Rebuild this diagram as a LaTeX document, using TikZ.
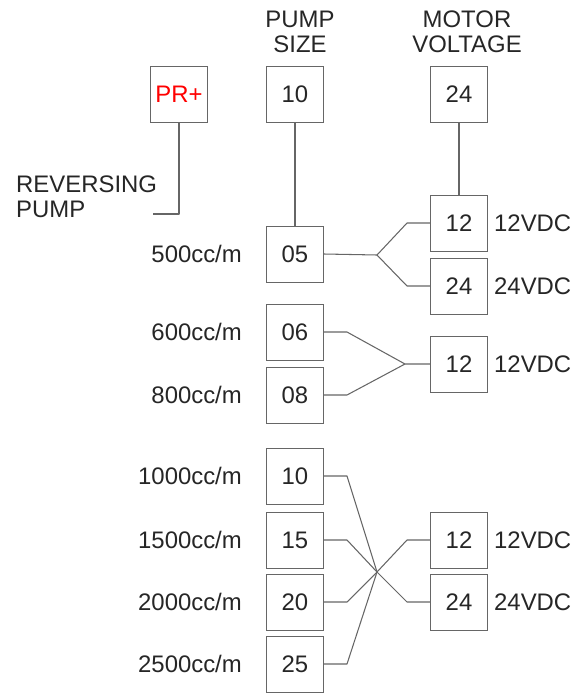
\documentclass[tikz,border=0pt]{standalone}
\usepackage{fontspec}
\setmainfont{Liberation Sans}
\usetikzlibrary{positioning}
\begin{document}
\begin{tikzpicture}[x=0.03cm, y=-0.03cm,
        txt/.style={text=black!85, inner sep=0pt, font=\fontsize{20.4}{21.3}\selectfont},
        box/.style={txt, draw=black!60, line width=0.8pt, minimum width=1.71cm, minimum height=1.68cm},
        wire/.style={draw=black!60, line width=0.9pt, line join=round}]
        \useasboundingbox (0,0) rectangle (587,693);

        % Column headings
        \node[txt, align=center] (hsize) at (300,32) {PUMP\\SIZE};
        \node[txt, align=center] (hvolt) at (467,32) {MOTOR\\VOLTAGE};

        % Top row of the code
        \node[box, text=red] (pr) at (179,94) {PR+};
        \node[box] (sizetop) at (295,94) {10};
        \node[box] (volttop) at (459,94) {24};

        % Reversing pump callout
        \node[txt, align=left, anchor=west] (rev) at (16,197) {REVERSING\\PUMP};
        \coordinate (revend) at (153,214);
        \draw[wire] (pr.south) |- (revend);

        % Elbow columns for the branch lines
        \coordinate (elbL) at (347,0);
        \coordinate (elbR) at (407,0);

        % 500cc/m: 12 or 24 VDC
        \node[box] (s05) at (295,254) {05};
        \node[txt, left=0.72cm of s05] (l05) {500cc/m};
        \node[box] (v12a) at (459,223) {12};
        \node[box] (v24a) at (459,286) {24};
        \node[txt, right=0.18cm of v12a] (d12a) {12VDC};
        \node[txt, right=0.18cm of v24a] (d24a) {24VDC};
        \coordinate (hubA) at (377,255);
        \draw[wire] (sizetop.south) -- (s05.north);
        \draw[wire] (volttop.south) -- (v12a.north);
        \draw[wire] (s05.east) -- (hubA) -- (v12a.west -| elbR) -- (v12a.west);
        \draw[wire] (hubA) -- (v24a.west -| elbR) -- (v24a.west);

        % 600 and 800cc/m: 12 VDC only
        \node[box] (s06) at (295,332) {06};
        \node[box] (s08) at (295,395) {08};
        \node[txt, left=0.72cm of s06] (l06) {600cc/m};
        \node[txt, left=0.72cm of s08] (l08) {800cc/m};
        \node[box] (v12b) at (459,364) {12};
        \node[txt, right=0.18cm of v12b] (d12b) {12VDC};
        \coordinate (hubB) at (405,364);
        \draw[wire] (s06.east) -- (s06.east -| elbL) -- (hubB) -- (v12b.west);
        \draw[wire] (s08.east) -- (s08.east -| elbL) -- (hubB);

        % 1000 to 2500cc/m: 12 or 24 VDC
        \foreach \n/\y/\q in {10/476/1000, 15/540/1500, 20/602/2000, 25/664/2500} {
            \node[box] (s\n) at (295,\y) {\n};
            \node[txt, left=0.72cm of s\n] (l\n) {\q cc/m};
        }
        \node[box] (v12c) at (459,540) {12};
        \node[box] (v24c) at (459,602) {24};
        \node[txt, right=0.18cm of v12c] (d12c) {12VDC};
        \node[txt, right=0.18cm of v24c] (d24c) {24VDC};
        \coordinate (hubC) at (377,572);
        \foreach \n in {10,15,20,25}
            \draw[wire] (s\n.east) -- (s\n.east -| elbL) -- (hubC);
        \draw[wire] (hubC) -- (v12c.west -| elbR) -- (v12c.west);
        \draw[wire] (hubC) -- (v24c.west -| elbR) -- (v24c.west);

    \end{tikzpicture}
\end{document}
